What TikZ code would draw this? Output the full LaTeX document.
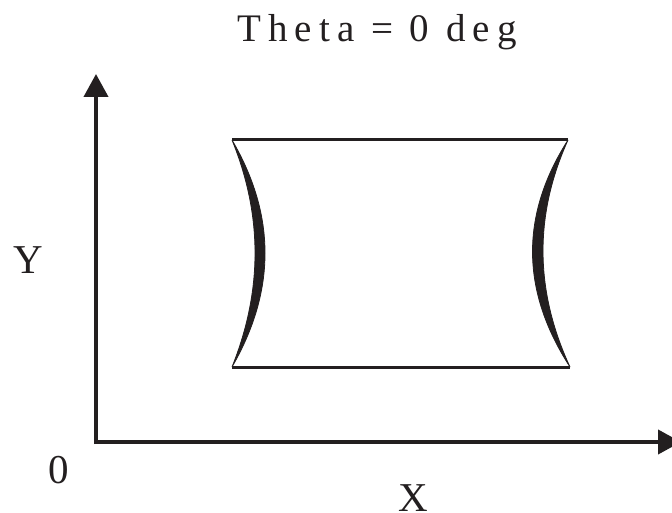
\documentclass[tikz,border=0pt]{standalone}
\usepackage{fontspec}
\setmainfont{Liberation Serif}
\newfontfamily\titlefont[LetterSpace=18]{Liberation Serif}
\usetikzlibrary{arrows.meta}
\definecolor{ink}{RGB}{35,31,32}
\begin{document}
\begin{tikzpicture}[x=1pt,y=-1pt,
  axis/.style={draw=ink,line width=4pt,-{Triangle[length=23pt,width=24pt]}},
  edge/.style={draw=ink,line width=3pt},
  lens/.style={fill=ink,draw=ink,line width=0.8pt},
  lbl/.style={text=ink,inner sep=0pt,font=\fontsize{41}{45}\selectfont}]
\clip (0,0) rectangle (672,513);
\fill[white] (0,0) rectangle (672,513);
% axes
\coordinate (O) at (96,442);
\coordinate (Ybot) at (96,444);
\coordinate (Xstart) at (94,442);
\coordinate (Ytip) at (96,74);
\coordinate (Xtip) at (681,442);
\draw[axis] (Ybot) -- (Ytip);
\draw[axis] (Xstart) -- (Xtip);
% labels
\node[lbl,anchor=base] (title) at (377,42) {\titlefont\fontsize{39}{43}\selectfont Theta = 0 deg};
\node[lbl,anchor=base] (ylbl) at (28,273) {Y};
\node[lbl,anchor=base] (xlbl) at (413,511) {X};
\node[lbl,anchor=base] (zero) at (59,483) {0};
% shape corners
\coordinate (TL) at (232,140);
\coordinate (TR) at (568,140);
\coordinate (BL) at (232,367);
\coordinate (BR) at (570,367);
\draw[edge] (TL) -- (TR);
\draw[edge] (BL) -- (BR);
% left lens
\path[lens] (TL) .. controls (276,215.3) and (276,290.7) .. (BL)
  .. controls (262.7,290.7) and (262.7,215.3) .. (TL) -- cycle;
% right lens
\path[lens] (TR) .. controls (520,215.3) and (520.7,290.7) .. (BR)
  .. controls (534.7,290.7) and (534,215.3) .. (TR) -- cycle;
\end{tikzpicture}
\end{document}
